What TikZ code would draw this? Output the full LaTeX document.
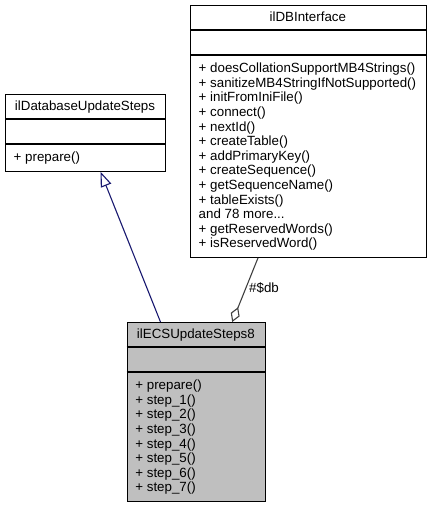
\documentclass[tikz,border=0pt]{standalone}
\usepackage{fontspec}
\setmainfont{Liberation Sans}
\usetikzlibrary{arrows.meta,calc}
\definecolor{ecsfill}{HTML}{BFBFBF}
\definecolor{inhcol}{HTML}{191970}
\definecolor{aggcol}{HTML}{404040}
\newcommand{\andmoretext}{and 78 more...}
\begin{document}
\begin{tikzpicture}[x=1pt,y=1pt,
  classbox/.style={draw=black, line width=1.1pt, fill=white, inner sep=0pt, anchor=north west},
  sepline/.style={draw=black, line width=1.1pt},
  txt/.style={inner sep=0pt, font=\fontsize{13.33}{14.6}\selectfont, text=black},
  inherit/.style={draw=inhcol, line width=1.1pt, -{Triangle[length=15, width=11, fill=white]}},
  aggregate/.style={draw=aggcol, line width=1.1pt, -{Diamond[length=16, width=9.5, fill=white]}}]
\useasboundingbox (0,0) rectangle (431,-507);

% ilDatabaseUpdateSteps
\node[classbox, minimum width=160, minimum height=76.6] (dbsteps) at (5,-94) {};
\draw[sepline] ([yshift=-25pt]dbsteps.north west) -- ([yshift=-25pt]dbsteps.north east);
\draw[sepline] ([yshift=-50pt]dbsteps.north west) -- ([yshift=-50pt]dbsteps.north east);
\node[txt, anchor=base] (dbstepsT) at (85,-110.8) {ilDatabaseUpdateSteps};
\node[txt, anchor=base west] (dbstepsM) at (13.5,-161.6) {+ prepare()};

% ilDBInterface
\node[classbox, minimum width=235.7, minimum height=251.8] (dbi) at (190,-5) {};
\draw[sepline] ([yshift=-25pt]dbi.north west) -- ([yshift=-25pt]dbi.north east);
\draw[sepline] ([yshift=-50pt]dbi.north west) -- ([yshift=-50pt]dbi.north east);
\node[txt, anchor=base] (dbiT) at (307.85,-21.8) {ilDBInterface};
\foreach [count=\i from 0] \t in {%
  {+ doesCollationSupportMB4Strings()},
  {+ sanitizeMB4StringIfNotSupported()},
  {+ initFromIniFile()},
  {+ connect()},
  {+ nextId()},
  {+ createTable()},
  {+ addPrimaryKey()},
  {+ createSequence()},
  {+ getSequenceName()},
  {+ tableExists()},
  {\andmoretext},
  {+ getReservedWords()},
  {+ isReservedWord()}}
  \node[txt, anchor=base west] (dbiM\i) at (198.5,{-(72.6+\i*14.6)}) {\t};

% ilECSUpdateSteps8
\node[classbox, fill=ecsfill, minimum width=138.3, minimum height=178.8] (ecs) at (126.7,-322) {};
\draw[sepline] ([yshift=-25pt]ecs.north west) -- ([yshift=-25pt]ecs.north east);
\draw[sepline] ([yshift=-50pt]ecs.north west) -- ([yshift=-50pt]ecs.north east);
\node[txt, anchor=base] (ecsT) at (195.85,-338.8) {ilECSUpdateSteps8};
\foreach [count=\i from 0] \t in {%
  {+ prepare()},
  {+ step\_1()},
  {+ step\_2()},
  {+ step\_3()},
  {+ step\_4()},
  {+ step\_5()},
  {+ step\_6()},
  {+ step\_7()}}
  \node[txt, anchor=base west] (ecsM\i) at (135.2,{-(389.6+\i*14.6)}) {\t};

% connectors
\draw[inherit] ([xshift=33.8pt]ecs.north west) -- ([xshift=95.5pt]dbsteps.south west);
\draw[aggregate] ([xshift=68pt]dbi.south west) -- ([xshift=105.5pt]ecs.north west);
\node[txt, anchor=base west] (dblabel) at (249,-292.5) {\#\$db};
\end{tikzpicture}
\end{document}
